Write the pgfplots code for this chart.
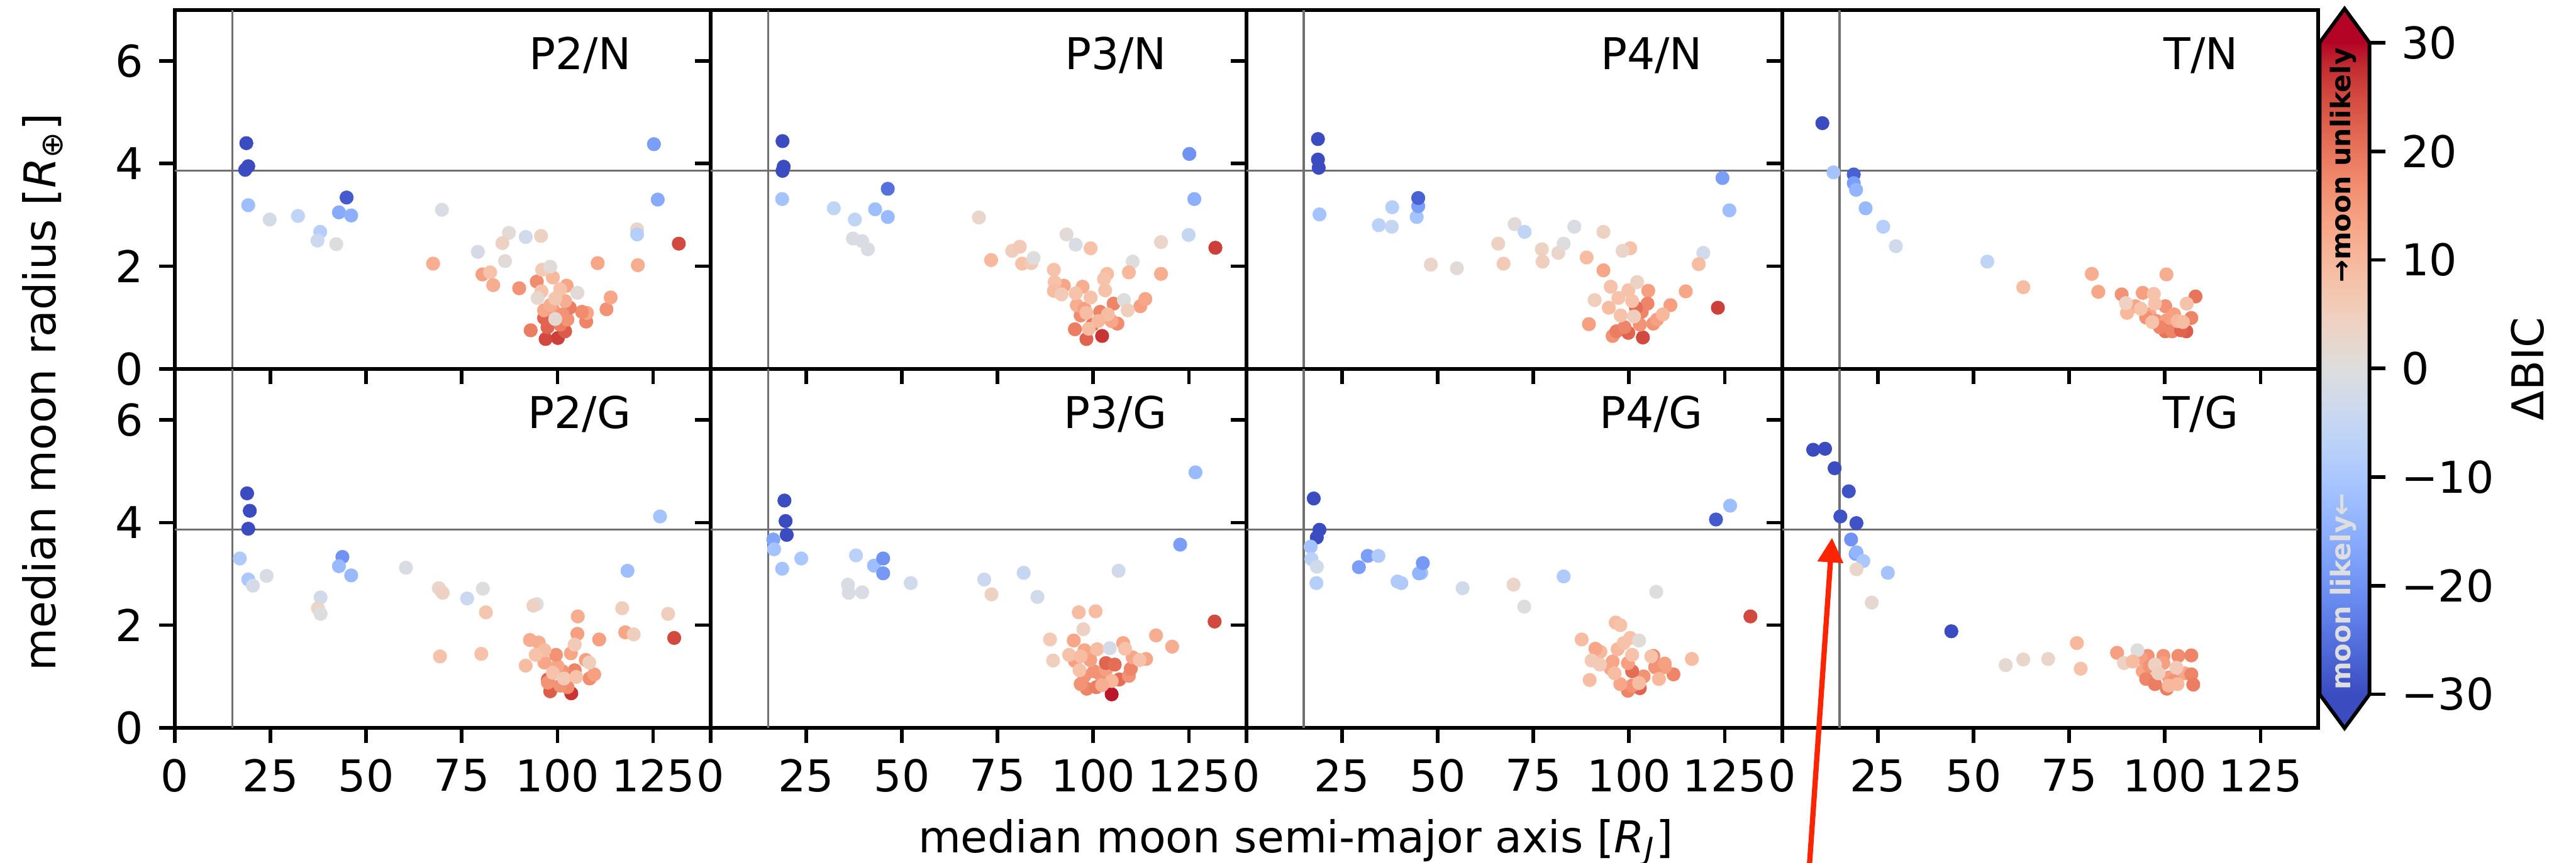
\documentclass[border=0pt]{standalone}
\usepackage{fontspec}
\setmainfont{DejaVu Sans}
\usepackage{pgfplots}
\usepackage{pgfplotstable}
\pgfplotsset{compat=1.18}
\usetikzlibrary{arrows.meta}

\definecolor{refgray}{RGB}{112,112,112}
\definecolor{arrowred}{RGB}{255,36,0}
\definecolor{cwlow}{RGB}{59,76,192}
\definecolor{cwhigh}{RGB}{180,4,38}
\definecolor{likelygray}{RGB}{222,222,222}

\newcommand{\lfont}{\fontsize{9.6}{11.5}\selectfont}

\pgfplotsset{
  colormap={coolwarm}{rgb255=(59,76,192) rgb255=(68,90,204) rgb255=(77,104,215) rgb255=(87,117,225) rgb255=(98,130,234) rgb255=(108,142,241) rgb255=(119,154,247) rgb255=(130,165,251) rgb255=(141,176,254) rgb255=(152,185,255) rgb255=(163,194,255) rgb255=(174,201,253) rgb255=(184,208,249) rgb255=(194,213,244) rgb255=(204,217,238) rgb255=(213,219,230) rgb255=(221,221,221) rgb255=(229,216,209) rgb255=(236,211,197) rgb255=(241,204,185) rgb255=(245,196,173) rgb255=(247,187,160) rgb255=(247,177,148) rgb255=(247,166,135) rgb255=(244,154,123) rgb255=(241,141,111) rgb255=(236,127,99) rgb255=(229,112,88) rgb255=(222,96,77) rgb255=(213,80,66) rgb255=(203,62,56) rgb255=(192,40,47) rgb255=(180,4,38)},
  panel/.style={
    scale only axis, width=117.36pt, height=78.66pt, anchor=south west,
    xmin=0, xmax=140, ymin=0, ymax=7,
    xtick={0,25,50,75,100,125}, ytick={0,2,4,6},
    xtick pos=bottom, ytick pos=left, tick align=outside,
    major tick length=3.4pt,
    every tick/.style={black, line width=0.8pt},
    axis line style={line width=0.8pt},
    tick label style={font=\lfont},
    /pgf/number format/assume math mode=true,
    colormap name=coolwarm,
    point meta min=-30, point meta max=30,
  },
  pts/.style={scatter, only marks, mark=*, mark size=1.48pt,
    point meta=explicit,
    mark options={line width=0.1pt},
    scatter/use mapped color={draw=mapped color, fill=mapped color}},
  refline/.style={refgray, line width=0.45pt, forget plot},
  toprow/.style={xticklabels={}},
  notleft/.style={yticklabels={}},
}

\newcommand{\plab}[1]{\node[anchor=base east, font=\lfont, inner sep=0pt] at (rel axis cs:0.853,0.834) {#1};}
\newcommand{\reflines}{%
  \addplot[refline] coordinates {(15,0) (15,7)};
  \addplot[refline] coordinates {(0,3.86) (140,3.86)};}

\pgfplotstableread{
x y c
18.7 4.40 -30
19.2 3.95 -30
18.4 3.88 -30
19.2 3.19 -12
24.8 2.91 -2
32.2 2.98 -6
38.0 2.67 -8
37.3 2.50 -4
42.2 2.43 0
42.9 3.05 -16
46.1 2.99 -15
44.9 3.34 -28
69.8 3.10 -1
67.5 2.05 12
79.2 2.28 -2
86.3 2.10 1
87.3 2.65 1
85.6 2.45 4
91.7 2.57 -3
95.7 2.59 4
120.8 2.72 3
120.8 2.62 -8
121.0 2.02 12
110.5 2.06 13
125.2 4.38 -18
126.2 3.30 -16
131.7 2.44 25
80.4 1.84 14
82.4 1.88 8
83.2 1.63 12
90.0 1.57 16
94.6 1.70 17
96.9 0.58 25
100.1 0.60 26
102.0 0.73 23
93.0 0.75 19
97.4 0.81 22
100.7 0.86 19
96.5 0.99 22
102.6 0.96 16
107.5 0.92 18
107.7 1.09 13
106.4 1.11 17
103.2 1.19 19
96.5 1.14 13
98.8 1.16 14
101.3 1.06 16
98.1 1.24 12
112.8 1.16 16
113.9 1.39 13
102.0 1.32 12
102.4 1.62 13
98.8 1.78 10
96.0 1.93 6
98.1 1.99 1
105.2 1.48 1
100.7 1.55 8
95.8 1.51 8
94.8 1.38 2
99.4 1.37 7
99.4 0.97 2
}\PtwoN

\pgfplotstableread{
x y c
18.9 4.57 -30
19.6 4.23 -30
19.2 3.88 -30
17.0 3.30 -9
19.2 2.89 -10
20.4 2.77 -2
24.0 2.96 -1
38.1 2.54 -3
37.4 2.33 3
38.1 2.22 0
43.8 3.33 -20
42.9 3.15 -13
46.1 2.97 -13
60.4 3.12 -1
69.0 2.72 3
70.0 2.63 4
76.4 2.52 -4
80.5 2.71 0
81.3 2.25 7
69.3 1.39 8
80.1 1.44 8
94.6 2.41 0
93.7 2.38 4
105.3 2.17 12
116.9 2.33 5
118.3 3.06 -12
126.8 4.12 -11
128.9 2.22 5
130.5 1.75 25
117.7 1.86 13
119.9 1.82 5
110.9 1.72 14
105.2 1.83 14
92.8 1.71 12
95.1 1.66 12
103.6 0.67 27
98.1 0.71 23
97.5 0.94 22
102.6 0.79 17
100.7 0.82 16
97.5 0.88 16
108.4 0.96 17
109.6 1.04 14
104.5 1.12 18
101.3 1.10 16
100.0 1.20 13
107.4 1.32 14
96.6 1.27 13
99.6 1.42 16
103.5 1.45 13
91.7 1.21 9
96.6 1.51 9
94.3 1.42 8
104.5 1.62 6
108.3 1.27 5
98.8 1.07 8
101.7 0.96 6
104.9 0.99 8
}\PtwoG

\pgfplotstableread{
x y c
18.8 4.44 -30
19.1 3.94 -30
18.8 3.86 -30
18.7 3.31 -11
32.2 3.13 -6
37.7 2.91 -6
37.2 2.54 -1
39.6 2.49 -1
41.1 2.33 -1
43.0 3.11 -12
46.3 3.51 -25
46.3 2.96 -13
70.1 2.95 3
73.3 2.12 10
78.8 2.30 5
80.8 2.38 6
81.4 2.05 8
83.8 2.06 6
84.4 2.16 0
93.0 2.62 1
95.4 2.42 -1
99.3 2.35 8
110.3 2.09 0
117.7 2.47 3
117.7 1.85 12
109.3 1.88 10
125.1 4.19 -20
126.4 3.31 -15
124.9 2.61 -5
131.9 2.36 26
102.3 0.64 27
98.2 0.58 22
99.8 0.86 20
95.2 0.77 19
106.3 0.88 17
104.8 0.93 13
101.8 1.11 18
96.7 1.04 17
105.3 1.27 18
112.3 1.22 14
113.6 1.36 13
95.7 1.24 12
97.7 1.17 14
92.3 1.62 13
97.2 1.60 12
89.7 1.93 8
89.9 1.69 8
89.7 1.52 9
91.7 1.45 6
95.4 1.47 8
103.6 1.85 9
102.8 1.75 8
103.1 1.53 8
99.3 1.39 8
108.0 1.34 0
109.0 1.14 5
98.2 1.09 9
103.8 1.06 9
101.3 0.93 10
98.8 0.78 9
}\PthreeN

\pgfplotstableread{
x y c
19.3 4.43 -30
19.6 4.03 -30
19.9 3.76 -30
16.4 3.67 -17
16.6 3.48 -11
18.7 3.10 -11
23.7 3.30 -10
38.0 3.36 -7
42.7 3.16 -12
45.1 3.30 -20
45.1 3.01 -19
35.9 2.79 -1
36.1 2.63 -1
39.6 2.64 -1
52.3 2.82 -3
71.5 2.89 -4
73.4 2.60 4
81.8 3.02 -5
85.4 2.55 -3
106.6 3.06 -3
122.7 3.57 -18
126.7 4.98 -13
131.7 2.07 25
96.2 2.25 9
100.6 2.27 9
97.4 1.92 4
88.7 1.72 6
89.5 1.31 5
94.9 1.70 13
116.4 1.80 12
120.6 1.58 12
107.8 1.65 13
104.8 0.65 29
98.3 0.76 18
100.8 0.79 19
96.7 0.85 16
106.8 0.94 21
97.7 1.01 16
101.8 1.04 16
109.3 1.01 16
100.2 1.10 16
103.3 1.13 14
109.8 1.15 18
103.3 1.26 22
105.6 1.23 21
95.2 1.30 14
99.2 1.32 14
110.3 1.37 13
113.8 1.34 13
97.7 1.51 13
101.0 1.53 9
108.3 1.54 8
93.7 1.42 8
96.7 1.39 9
112.1 1.32 8
104.3 1.55 -2
96.4 1.12 8
104.8 0.91 10
102.3 0.83 12
}\PthreeG

\pgfplotstableread{
x y c
18.7 4.48 -30
18.7 4.08 -30
18.9 3.92 -30
19.1 3.01 -11
34.6 2.80 -7
38.0 2.77 -5
38.1 3.15 -8
44.5 2.96 -11
44.9 3.17 -18
44.9 3.33 -27
48.2 2.03 3
55.0 1.96 1
65.8 2.44 4
67.2 2.05 6
70.1 2.82 1
72.7 2.67 -6
77.2 2.33 4
77.4 2.09 5
81.5 2.26 3
82.9 2.44 0
85.7 2.77 -1
88.9 2.17 9
93.3 2.67 4
93.3 1.92 13
100.3 2.35 8
98.3 2.30 3
119.4 2.26 -3
118.2 2.04 9
124.4 3.72 -18
126.2 3.09 -12
123.2 1.19 26
114.8 1.51 13
110.8 1.24 14
105.0 1.52 14
103.6 0.61 25
95.7 0.64 16
89.5 0.87 14
99.8 0.70 22
96.7 0.73 19
98.8 0.81 18
102.8 0.86 16
106.3 0.88 16
107.3 0.96 14
103.3 1.11 18
104.8 1.27 18
101.8 1.19 21
94.7 1.19 9
108.8 1.06 10
95.2 1.60 8
99.8 1.53 8
97.2 1.38 8
91.0 1.34 5
100.8 1.32 8
102.1 1.69 4
97.8 1.04 8
101.3 1.02 5
}\PfourN

\pgfplotstableread{
x y c
17.6 4.47 -30
19.1 3.86 -30
18.4 3.71 -30
16.8 3.53 -11
17.0 3.29 -7
18.4 3.14 -3
18.3 2.82 -8
29.4 3.13 -18
31.7 3.35 -18
34.5 3.35 -9
39.5 2.85 -9
40.5 2.82 -9
45.7 3.02 -11
45.1 3.01 -14
46.1 3.21 -19
56.5 2.72 -3
69.8 2.79 3
72.6 2.36 0
82.9 2.95 -9
107.1 2.65 0
122.7 4.06 -28
126.4 4.33 -12
131.7 2.17 25
87.6 1.72 9
102.8 0.77 22
99.7 0.72 18
100.8 0.82 16
97.7 0.85 13
89.7 0.93 9
111.6 1.04 18
103.8 1.00 16
109.3 1.18 14
106.8 1.18 16
100.8 1.10 21
95.2 1.15 13
109.3 1.25 14
99.7 1.26 14
95.7 1.29 13
116.4 1.34 9
106.3 1.40 18
97.0 1.53 10
92.5 1.48 10
91.2 1.54 13
96.5 2.05 9
97.7 2.00 8
100.3 1.75 8
98.6 1.65 8
100.8 1.42 8
105.8 1.39 8
90.2 1.31 6
92.4 1.23 6
96.2 1.06 9
107.8 0.95 10
102.6 0.87 9
102.6 1.70 1
}\PfourG

\pgfplotstableread{
x y c
10.5 4.79 -30
13.4 3.83 -11
18.7 3.79 -27
18.7 3.62 -18
19.3 3.49 -14
21.8 3.13 -13
26.4 2.77 -8
29.7 2.39 -3
53.6 2.09 -6
63.0 1.59 9
80.9 1.85 12
82.6 1.50 13
100.4 1.84 12
88.7 1.45 16
94.2 1.48 14
92.3 1.22 13
100.1 1.22 16
96.0 1.06 13
108.0 1.41 20
102.4 1.06 14
97.8 0.93 16
100.5 0.95 14
106.9 0.99 18
100.1 0.73 20
101.9 0.73 18
105.6 0.73 23
104.2 0.75 22
98.7 0.81 18
95.1 1.00 16
90.1 1.09 10
93.7 1.17 8
97.4 1.27 8
103.3 0.93 10
104.7 0.91 9
105.7 1.27 8
97.1 1.46 8
96.7 0.91 8
89.8 1.28 4
}\TN

\pgfplotstableread{
x y c
8.1 5.42 -30
11.2 5.44 -30
13.7 5.06 -30
17.4 4.61 -29
15.2 4.12 -29
19.4 3.99 -29
18.0 3.67 -20
19.2 3.39 -17
19.4 3.42 -14
21.2 3.25 -10
19.4 3.09 3
27.6 3.02 -11
23.4 2.44 2
44.2 1.88 -30
58.4 1.22 2
63.0 1.33 3
69.5 1.34 3
77.0 1.65 10
78.0 1.15 8
87.5 1.46 14
95.5 1.40 16
99.6 1.40 16
103.5 1.40 17
106.9 1.41 18
93.7 1.36 14
94.2 1.10 13
105.1 1.06 13
106.9 1.04 18
95.1 0.95 18
97.4 0.85 19
107.4 0.84 19
100.5 0.76 19
101.0 0.98 14
102.3 0.91 16
96.0 1.20 16
99.6 1.26 14
92.8 1.51 0
89.3 1.26 4
91.6 1.29 9
97.4 1.23 4
98.3 1.06 5
103.0 1.17 6
101.0 0.82 10
103.3 0.85 10
}\TG

\begin{document}
\begin{tikzpicture}
% ---------- top row ----------
\begin{axis}[panel, toprow, at={(38.28pt,108.3pt)}]
  \reflines
  \addplot[pts] table[x=x, y=y, meta=c] {\PtwoN};
  \plab{P2/N}
\end{axis}
\begin{axis}[panel, toprow, notleft, at={(155.64pt,108.3pt)}]
  \reflines
  \addplot[pts] table[x=x, y=y, meta=c] {\PthreeN};
  \plab{P3/N}
\end{axis}
\begin{axis}[panel, toprow, notleft, at={(273.0pt,108.3pt)}]
  \reflines
  \addplot[pts] table[x=x, y=y, meta=c] {\PfourN};
  \plab{P4/N}
\end{axis}
\begin{axis}[panel, toprow, notleft, at={(390.36pt,108.3pt)}]
  \reflines
  \addplot[pts] table[x=x, y=y, meta=c] {\TN};
  \plab{T/N}
\end{axis}
% ---------- bottom row ----------
\begin{axis}[panel, at={(38.28pt,29.64pt)}]
  \reflines
  \addplot[pts] table[x=x, y=y, meta=c] {\PtwoG};
  \plab{P2/G}
\end{axis}
\begin{axis}[panel, notleft, at={(155.64pt,29.64pt)}]
  \reflines
  \addplot[pts] table[x=x, y=y, meta=c] {\PthreeG};
  \plab{P3/G}
\end{axis}
\begin{axis}[panel, notleft, at={(273.0pt,29.64pt)}]
  \reflines
  \addplot[pts] table[x=x, y=y, meta=c] {\PfourG};
  \plab{P4/G}
\end{axis}
\begin{axis}[panel, notleft, at={(390.36pt,29.64pt)}, clip=false,
  colorbar,
  colorbar shift/.style={xshift=0.36pt, yshift=7.32pt},
  colorbar style={
    at={(parent axis.south east)}, anchor=south west,
    scale only axis, width=10.92pt, height=142.8pt,
    ytick={-30,-20,-10,0,10,20,30},
    yticklabels={−30,−20,−10,0,10,20,30},
    ytick pos=right, yticklabel pos=right,
    tick align=outside, major tick length=3.48pt,
    every tick/.style={black, line width=0.8pt},
    axis line style={draw=none},
    tick label style={font=\lfont},
  }]
  \reflines
  \addplot[pts] table[x=x, y=y, meta=c] {\TG};
  \plab{T/G}
  \draw[arrowred, line width=1.15pt, -{Triangle[length=5.4pt,width=5.4pt]}]
    (axis cs:7.16,-2.64) -- (axis cs:13.03,3.705);
\end{axis}
% ---------- colorbar extensions and labels ----------
\fill[cwhigh] (508.08pt,179.76pt) -- (513.54pt,187.2pt) -- (519pt,179.76pt) -- cycle;
\fill[cwlow] (508.08pt,36.96pt) -- (513.54pt,29.52pt) -- (519pt,36.96pt) -- cycle;
\draw[line width=0.8pt, line join=miter] (508.08pt,36.96pt) -- (508.08pt,179.76pt) -- (513.54pt,187.2pt) -- (519pt,179.76pt) -- (519pt,36.96pt) -- (513.54pt,29.52pt) -- cycle;
\node[rotate=90, anchor=base, inner sep=0pt, font=\bfseries\fontsize{5.9}{6.8}\selectfont, text=black] at (514.8pt,152.94pt) {→moon unlikely};
\node[rotate=90, anchor=base, inner sep=0pt, font=\bfseries\fontsize{5.9}{6.8}\selectfont, text=likelygray] at (514.8pt,59.46pt) {moon likely←};
\node[rotate=90, anchor=base, inner sep=0pt, font=\lfont] at (557.16pt,108.24pt) {ΔBIC};
\node[rotate=90, anchor=base, inner sep=0pt, font=\lfont] at (12.24pt,103.2pt) {median moon radius [\textit{R}\textsubscript{⊕}]};
\node[anchor=base, inner sep=0pt, font=\lfont] at (283.8pt,2.28pt) {median moon semi-major axis [\textit{R}\textsubscript{\textit{J}}]};
\pgfresetboundingbox
\useasboundingbox (0pt,0pt) rectangle (564.24pt,189.12pt);
\end{tikzpicture}
\end{document}
